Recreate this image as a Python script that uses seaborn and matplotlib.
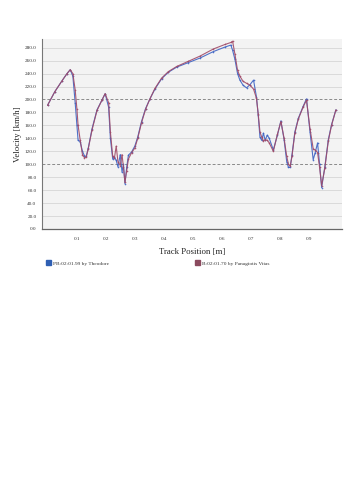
import numpy as np
import pandas as pd
import matplotlib
matplotlib.use("Agg")
import matplotlib.pyplot as plt
import matplotlib.patches as mpatches
from matplotlib.ticker import FormatStrFormatter
import seaborn as sns

# ---- data ----
track_pos = [0.000, 0.025, 0.050, 0.067, 0.078, 0.087, 0.095, 0.101, 0.105, 0.112,
             0.120, 0.127, 0.133, 0.140, 0.153, 0.170, 0.187, 0.198, 0.210, 0.216,
             0.224, 0.230, 0.236, 0.242, 0.250, 0.256, 0.261, 0.266, 0.272, 0.278,
             0.289, 0.300, 0.310, 0.323, 0.337, 0.352, 0.369, 0.392, 0.415, 0.444,
             0.484, 0.524, 0.570, 0.610, 0.630, 0.636, 0.644, 0.653, 0.661, 0.672,
             0.684, 0.696, 0.708, 0.718, 0.724, 0.730, 0.736, 0.742, 0.748, 0.755,
             0.762, 0.776, 0.790, 0.802, 0.813, 0.822, 0.828, 0.834, 0.840, 0.850,
             0.862, 0.879, 0.890, 0.902, 0.913, 0.920, 0.928, 0.935, 0.942, 0.953,
             0.965, 0.976, 0.991]

vel_theodore = [191, 212, 229, 240, 246, 236, 195, 160, 137, 135,
                120, 113, 112, 125, 155, 184, 199, 209, 188, 140,
                108, 111, 106, 96, 115, 88, 100, 70, 95, 114,
                119, 128, 142, 166, 186, 201, 216, 232, 242, 250,
                257, 264, 274, 281, 284, 276, 262, 240, 230, 222,
                218, 223, 230, 204, 176, 142, 137, 148, 137, 145,
                140, 122, 145, 167, 138, 104, 95, 95, 114, 150,
                171, 190, 201, 150, 107, 118, 133, 100, 64, 96,
                138, 161, 184]

vel_panagiotis = [191, 212, 229, 240, 246, 240, 215, 185, 160, 138,
                  115, 110, 111, 124, 153, 183, 199, 209, 195, 150,
                  112, 110, 128, 104, 98, 115, 95, 72, 90, 108,
                  118, 125, 140, 164, 185, 201, 217, 233, 243, 251,
                  259, 267, 278, 285, 288, 290, 270, 245, 236, 228,
                  225, 222, 216, 202, 178, 150, 142, 136, 138, 137,
                  133, 120, 146, 166, 140, 112, 100, 97, 112, 148,
                  170, 189, 199, 155, 124, 122, 118, 95, 67, 94,
                  136, 160, 184]

label_theodore = "PB:02:01.99 by Theodore"
label_panagiotis = "B:02:01.70 by Panagiotis Vitas"
y_ticks = [0, 20, 40, 60, 80, 100, 120, 140, 160, 180, 200, 220, 240, 260, 280]
x_ticks = [0.1, 0.2, 0.3, 0.4, 0.5, 0.6, 0.7, 0.8, 0.9]

df = pd.concat([
    pd.DataFrame({"pos": track_pos, "vel": vel_theodore, "lap": label_theodore}),
    pd.DataFrame({"pos": track_pos, "vel": vel_panagiotis, "lap": label_panagiotis}),
])

blue = "#3d63c4"
red = "#a04a68"
palette = {label_theodore: blue, label_panagiotis: red}

sns.set_theme(style="white")
plt.rcParams["font.family"] = ["Liberation Serif", "DejaVu Serif"]

fig = plt.figure(figsize=(3.64, 5.0), dpi=100)
ax = fig.add_axes([42 / 364, 1 - 229 / 500, 300 / 364, 190 / 500])
ax.set_facecolor("#f3f3f3")

# grid
for v in y_ticks[1:]:
    if v in (100, 200):
        ax.axhline(v, color="#8a8a8a", lw=0.7, ls=(0, (3, 2)), zorder=0)
    else:
        ax.axhline(v, color="#b8b8b8", lw=0.6, ls=(0, (1.2, 1.2)), zorder=0)

sns.lineplot(data=df, x="pos", y="vel", hue="lap", palette=palette,
             estimator=None, sort=False, lw=0.8, alpha=0.9,
             marker="o", markersize=1.2, markeredgewidth=0, ax=ax)
if ax.get_legend() is not None:
    ax.get_legend().remove()

ax.set_xlim(-0.019, 1.012)
ax.set_ylim(0, 293.4)
ax.set_yticks(y_ticks)
ax.set_xticks(x_ticks)
ax.yaxis.set_major_formatter(FormatStrFormatter("%.1f"))
ax.xaxis.set_major_formatter(FormatStrFormatter("%.1f"))
ax.tick_params(axis="both", length=0, labelsize=3.7, colors="#333333", pad=4)
ax.tick_params(axis="x", pad=6)

for s in ["top", "right"]:
    ax.spines[s].set_visible(False)
ax.spines["left"].set_color("#777777")
ax.spines["bottom"].set_color("#666666")
ax.spines["left"].set_linewidth(0.8)
ax.spines["bottom"].set_linewidth(0.9)

ax.set_xlabel("Track Position [m]", fontsize=6.3, color="#222222", labelpad=5)
ax.set_ylabel("Velocity [km/h]", fontsize=6.3, color="#222222", labelpad=2)

h1 = mpatches.Patch(facecolor="#2f5fb3", edgecolor="#2f5fb3", label=label_theodore)
h2 = mpatches.Patch(facecolor="#8b4a5e", edgecolor="#8b4a5e", label=label_panagiotis)
for h, xpos in [(h1, 46 / 364), (h2, 195 / 364)]:
    leg = fig.legend(handles=[h], loc="center left",
                     bbox_to_anchor=(xpos, 1 - 263 / 500), frameon=False,
                     fontsize=3.9, handlelength=0.9, handleheight=0.9,
                     handletextpad=0.4, borderpad=0, borderaxespad=0)
    for t in leg.get_texts():
        t.set_color("#333333")

fig.savefig("out.png", dpi=100, facecolor="white")
